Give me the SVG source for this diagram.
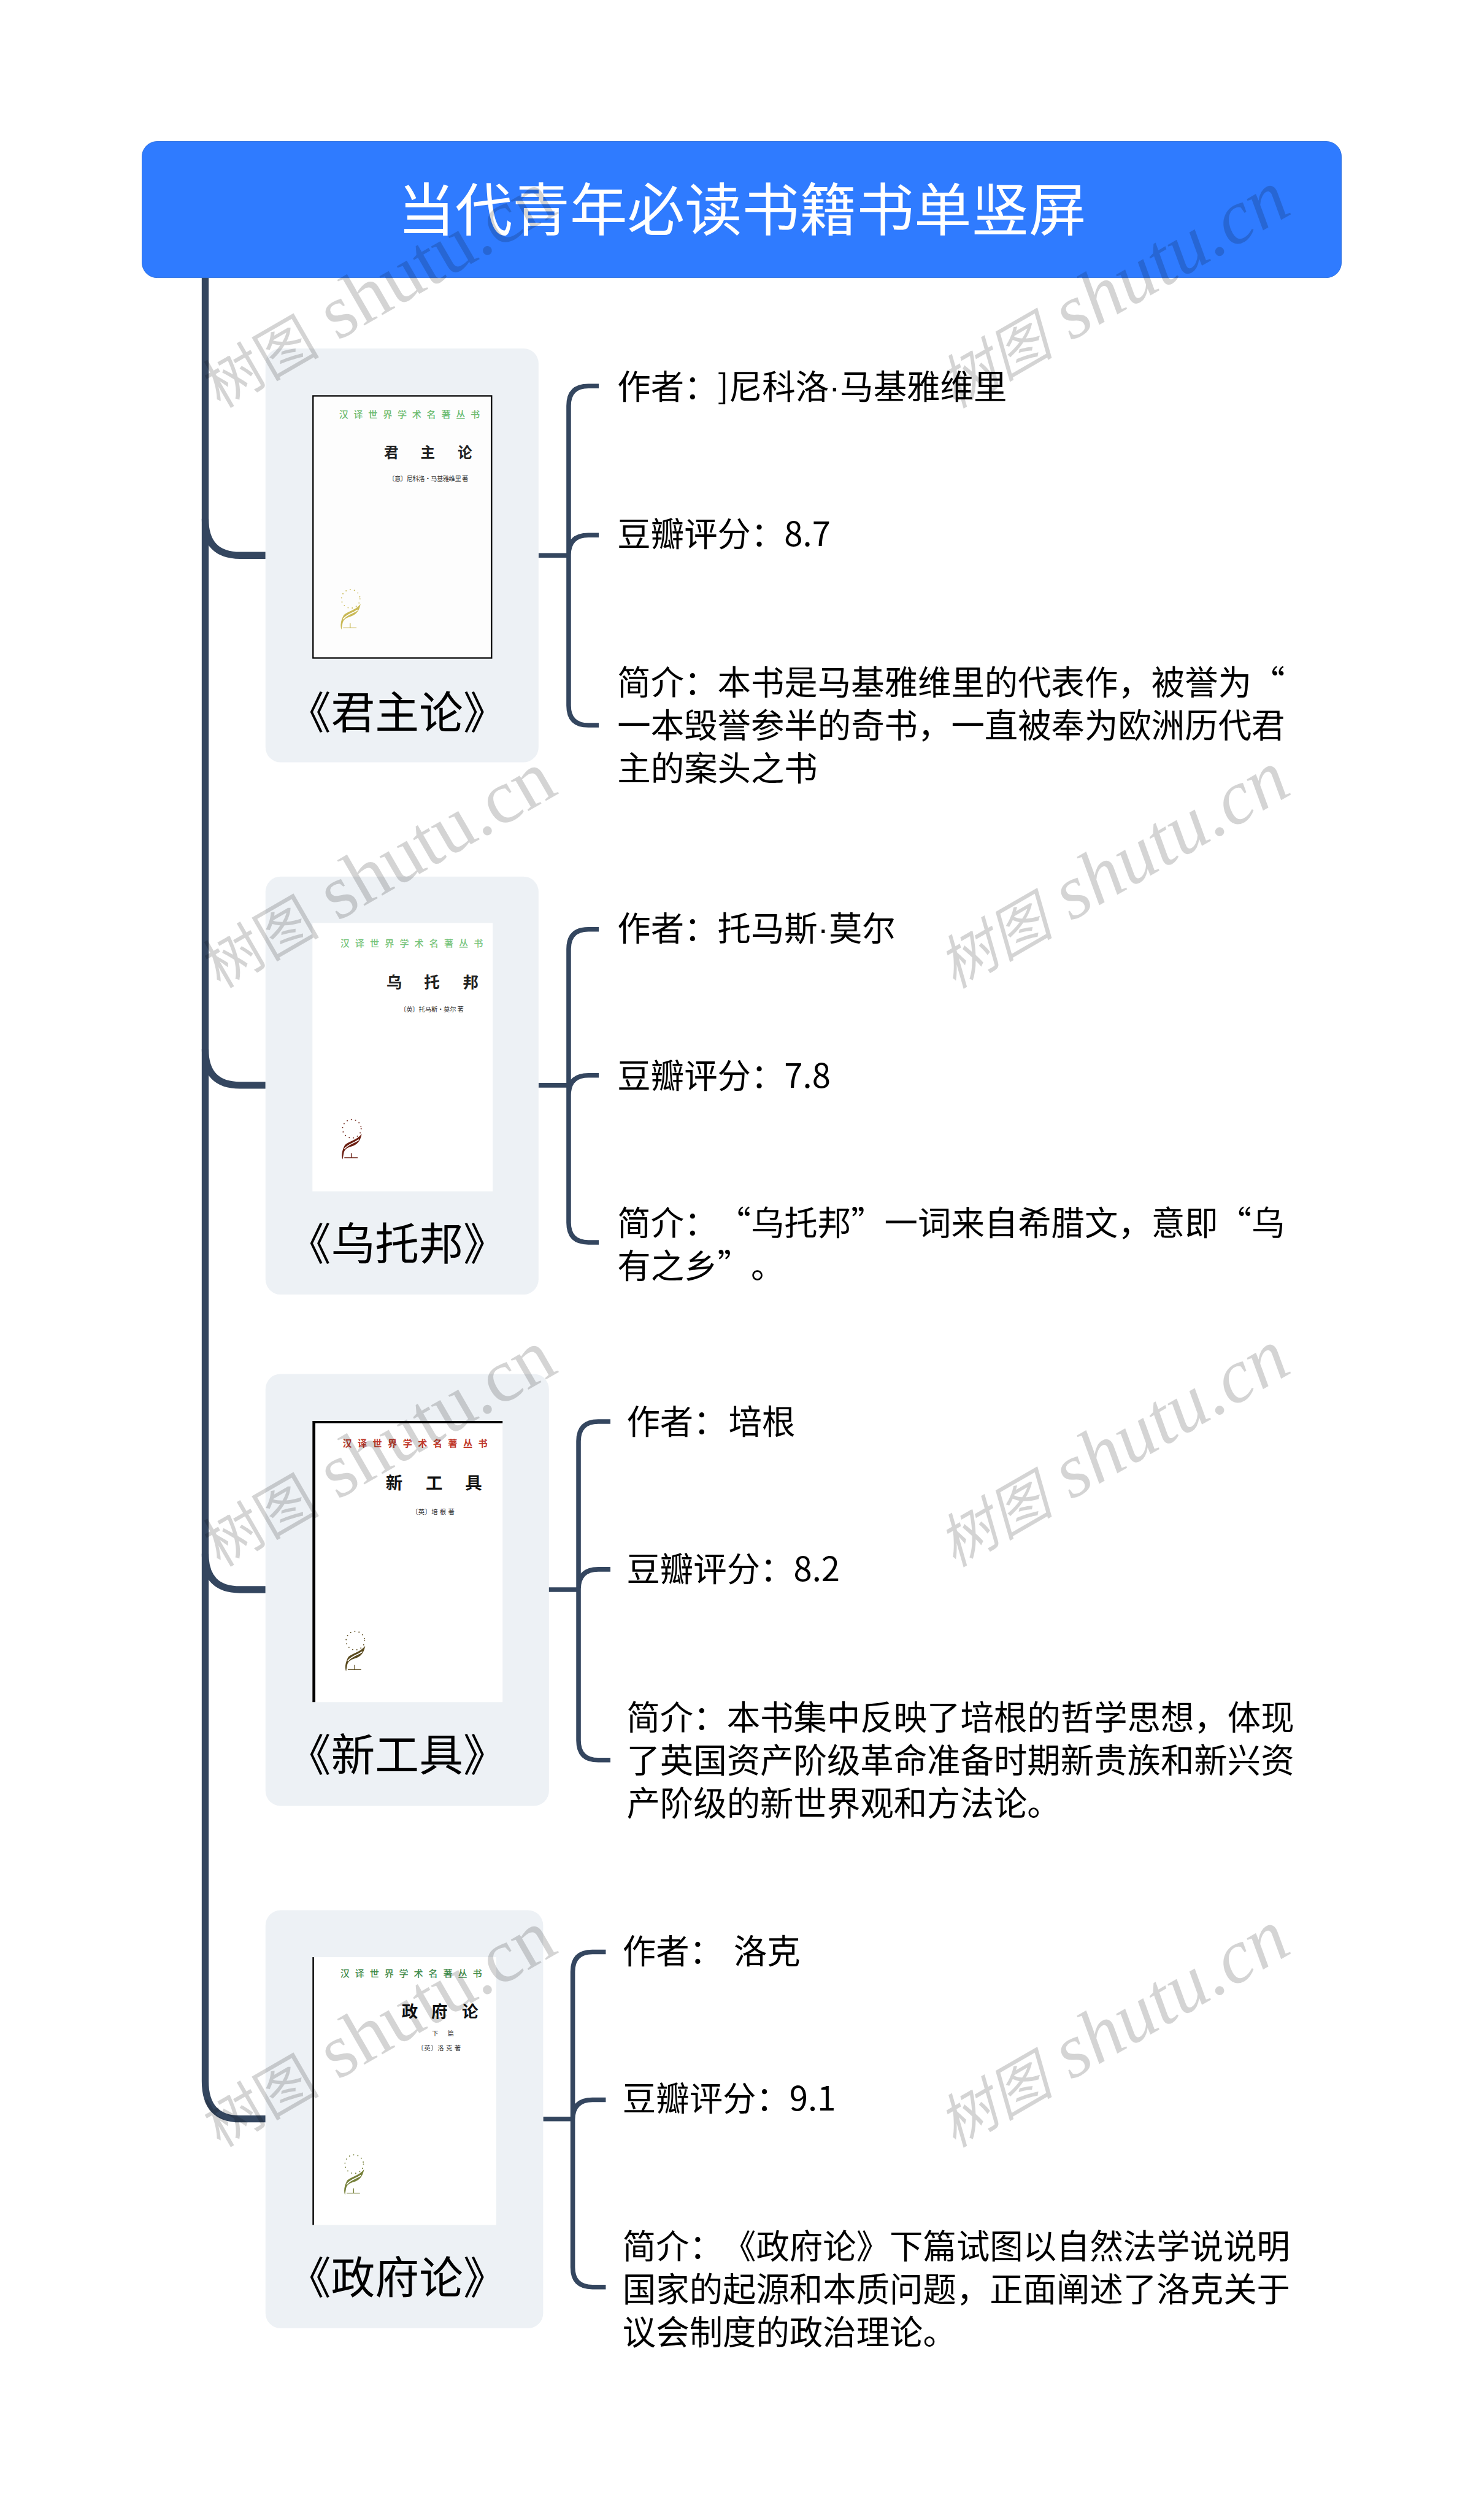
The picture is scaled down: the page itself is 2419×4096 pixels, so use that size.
<svg xmlns="http://www.w3.org/2000/svg" xmlns:xlink="http://www.w3.org/1999/xlink" width="2419" height="4096" viewBox="0 0 2419 4096">
<style>
text{font-family:"Noto Sans CJK SC","Noto Sans",sans-serif;text-spacing-trim:space-all}
.bg{fill:#edf1f5}
.con{fill:none;stroke:#34465f;stroke-linecap:butt}
.trunk{stroke-width:12}
.leafc{stroke-width:8}
.t{font-size:57.6px;fill:#000}
.dot{font-family:"Liberation Sans",sans-serif}
.lab{font-size:76px;fill:#000;text-anchor:middle}
.ser{font-size:16px;letter-spacing:9.2px;font-weight:500}
.ct{font-size:25px;font-weight:700;fill:#222;text-anchor:middle}
.au{font-size:11px;fill:#333}
.wm{font-family:"Liberation Serif","Noto Sans CJK SC",serif;font-size:132px;fill:#000;fill-opacity:.17}
.cj{font-size:100px}
.it{font-style:italic}
</style>
<defs>
<g id="orn">
<circle r="16" fill="none" stroke="currentColor" stroke-width="2" stroke-linecap="round" stroke-dasharray="0 7.4"/>
<path fill="currentColor" d="M17 9C15 20 10 28-2 31C-8 33-13 36-14 42L-16 53C-19 45-16 35-12 28C-6 22 8 20 17 9Z"/>
<path fill="none" stroke="#fff" stroke-width="1.6" d="M12 19C4 25-6 26-13 35"/>
<path fill="none" stroke="currentColor" stroke-width="1.5" d="M-13 50H10M-1 50V42"/>
</g>
</defs>
<rect width="2419" height="4096" fill="#fff"/>
<g transform="scale(.94492)">
<g id="connectors">
<path class="con trunk" d="M354 479V3590Q354 3655 414 3655H458"/>
<path class="con trunk" d="M354 895Q354 958 414 958H458"/>
<path class="con trunk" d="M354 1810Q354 1872 414 1872H458"/>
<path class="con trunk" d="M354 2680Q354 2742 414 2742H458"/>
<path class="con leafc" d="M929 958H981M1033 666H1015Q981 666 981 700V1217Q981 1251 1015 1251H1033M1033 923H1015Q981 923 981 957"/>
<path class="con leafc" d="M929 1872H981M1033 1603H1015Q981 1603 981 1637V2109Q981 2143 1015 2143H1033M1033 1855H1015Q981 1855 981 1889"/>
<path class="con leafc" d="M946 2742H998M1053 2452H1032Q998 2452 998 2486V3002Q998 3036 1032 3036H1053M1053 2707H1032Q998 2707 998 2741"/>
<path class="con leafc" d="M937 3655H988M1045 3367H1022Q988 3367 988 3401V3911Q988 3945 1022 3945H1045M1045 3622H1022Q988 3622 988 3656"/>
</g>
<g id="root">
<rect x="245" y="244" width="2069" height="235" rx="26" fill="#2f7bff" stroke="#2a6fe0" stroke-width="1"/>
<text x="1280" y="398" font-size="99" fill="#fff" text-anchor="middle">当代青年必读书籍书单竖屏</text>
</g>
<g id="book1">
<rect class="bg" x="458" y="601" width="471" height="714" rx="26"/>
<rect x="540" y="683" width="308" height="452" fill="#fdfdfd" stroke="#000" stroke-width="2.4"/>
<text class="ser" x="585" y="721" fill="#6cbb70">汉译世界学术名著丛书</text>
<text class="ct" x="675 738 802" y="790">君主论</text>
<text class="au" x="670" y="830" textLength="138">〔意〕尼科洛·马基雅维里 著</text>
<use href="#orn" x="605" y="1033" color="#c9b956"/>
<text class="lab" x="685" y="1256">《君主论》</text>
</g>
<g id="book2">
<rect class="bg" x="458" y="1512" width="471" height="721" rx="26"/>
<rect x="539" y="1592" width="311" height="463" fill="#fff"/>
<text class="ser" x="587" y="1633" fill="#78c47c" style="letter-spacing:9.6px">汉译世界学术名著丛书</text>
<text class="ct" x="680 745 812" y="1704" style="font-size:27px">乌托邦</text>
<text class="au" x="690" y="1745" textLength="110">〔英〕托马斯·莫尔 著</text>
<use href="#orn" x="607" y="1947" color="#6b1f12"/>
<text class="lab" x="685" y="2173">《乌托邦》</text>
</g>
<g id="book3">
<rect class="bg" x="458" y="2370" width="489" height="745" rx="26"/>
<rect x="539" y="2451" width="328" height="485" fill="#fff"/>
<path d="M539 2936V2451H867V2455H544V2936Z" fill="#000"/>
<text class="ser" x="591" y="2495" fill="#c0392b" style="letter-spacing:10px;font-weight:700">汉译世界学术名著丛书</text>
<text class="ct" x="680 749 817" y="2569" style="font-size:29px;fill:#111">新工具</text>
<text class="au" x="710" y="2612" textLength="74">〔英〕培 根 著</text>
<use href="#orn" x="613" y="2830" color="#5a4a1e"/>
<text class="lab" x="685" y="3054">《新工具》</text>
</g>
<g id="book4">
<rect class="bg" x="458" y="3295" width="479" height="721" rx="26"/>
<rect x="539" y="3376" width="317" height="462" fill="#fff"/>
<rect x="539" y="3376" width="2.6" height="462" fill="#000"/>
<text class="ser" x="587" y="3410" fill="#3f8a4a" style="letter-spacing:9.4px">汉译世界学术名著丛书</text>
<text class="ct" x="707 758 811" y="3480" style="font-size:28px;fill:#111">政府论</text>
<text class="au" x="745 772" y="3511">下篇</text>
<text class="au" x="720" y="3537" textLength="75">〔英〕洛 克 著</text>
<use href="#orn" x="611" y="3733" color="#76803a"/>
<text class="lab" x="685" y="3956">《政府论》</text>
</g>
<g id="leaf1-1"><text class="t" x="1065" y="688">作者：]尼科洛<tspan class="dot">·</tspan>马基雅维里</text></g>
<g id="leaf1-2"><text class="t" x="1065" y="942">豆瓣评分：8.7</text></g>
<g id="leaf1-3"><text class="t" x="1065" y="1198">简介：本书是马基雅维里的代表作，被誉为“</text><text class="t" x="1065" y="1272">一本毁誉参半的奇书，一直被奉为欧洲历代君</text><text class="t" x="1065" y="1346">主的案头之书</text></g>
<g id="leaf2-1"><text class="t" x="1065" y="1622">作者：托马斯<tspan class="dot">·</tspan>莫尔</text></g>
<g id="leaf2-2"><text class="t" x="1065" y="1876">豆瓣评分：7.8</text></g>
<g id="leaf2-3"><text class="t" x="1065" y="2130">简介：“乌托邦”一词来自希腊文，意即“乌</text><text class="t" x="1065" y="2204">有之乡”。</text></g>
<g id="leaf3-1"><text class="t" x="1081" y="2473">作者：<tspan dx="3">培根</tspan></text></g>
<g id="leaf3-2"><text class="t" x="1081" y="2727">豆瓣评分：8.2</text></g>
<g id="leaf3-3"><text class="t" x="1081" y="2983">简介：本书集中反映了培根的哲学思想，体现</text><text class="t" x="1081" y="3057">了英国资产阶级革命准备时期新贵族和新兴资</text><text class="t" x="1081" y="3131">产阶级的新世界观和方法论。</text></g>
<g id="leaf4-1"><text class="t" x="1074" y="3387" xml:space="preserve">作者： <tspan dx="6">洛克</tspan></text></g>
<g id="leaf4-2"><text class="t" x="1074" y="3640">豆瓣评分：9.1</text></g>
<g id="leaf4-3"><text class="t" x="1074" y="3896">简介：《政府论》下篇试图以自然法学说说明</text><text class="t" x="1074" y="3970">国家的起源和本质问题，正面阐述了洛克关于</text><text class="t" x="1074" y="4044">议会制度的政治理论。</text></g>
<g id="watermarks">
<text class="wm" transform="translate(380 705) rotate(-30)"><tspan class="cj">树图</tspan> shutu.cn</text>
<text class="wm" transform="translate(380 1706) rotate(-30)"><tspan class="cj">树图</tspan> shutu.cn</text>
<text class="wm" transform="translate(380 2704) rotate(-30)"><tspan class="cj">树图</tspan> shutu.cn</text>
<text class="wm" transform="translate(380 3705) rotate(-30)"><tspan class="cj">树图</tspan> shutu.cn</text>
<text class="wm it" transform="translate(1646 705) rotate(-30)"><tspan class="cj">树图</tspan> shutu.cn</text>
<text class="wm it" transform="translate(1646 1706) rotate(-30)"><tspan class="cj">树图</tspan> shutu.cn</text>
<text class="wm it" transform="translate(1646 2704) rotate(-30)"><tspan class="cj">树图</tspan> shutu.cn</text>
<text class="wm it" transform="translate(1646 3705) rotate(-30)"><tspan class="cj">树图</tspan> shutu.cn</text>
</g>
</g>
</svg>
